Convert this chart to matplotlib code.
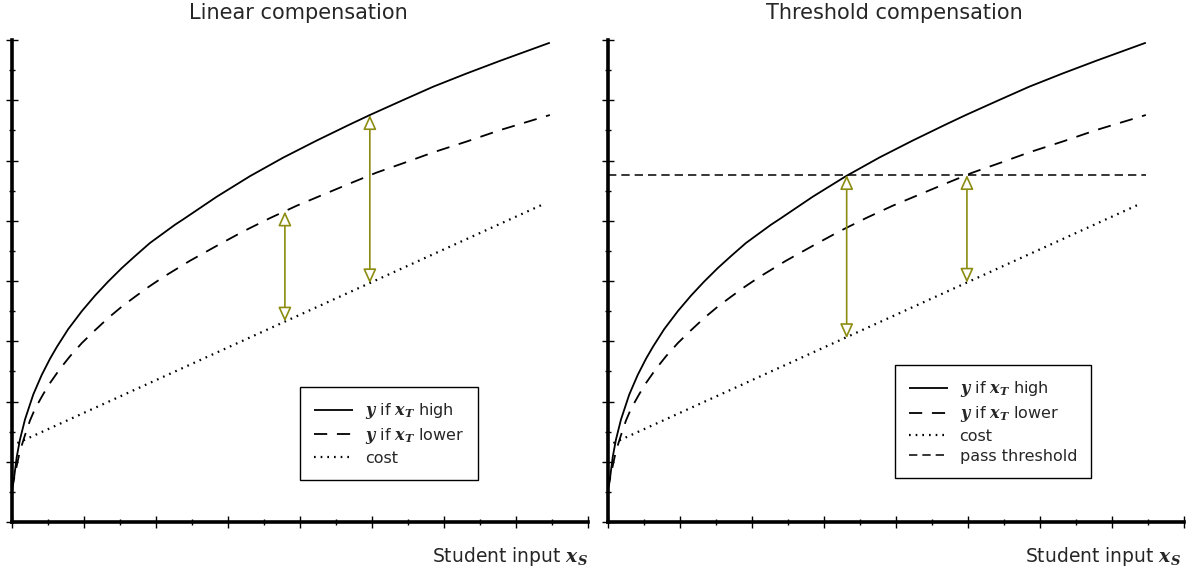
import matplotlib
matplotlib.use("Agg")
import matplotlib.pyplot as plt
from matplotlib.ticker import MultipleLocator, NullFormatter

plt.rcParams['font.family'] = ['DejaVu Sans']
plt.rcParams['mathtext.fontset'] = 'custom'
plt.rcParams['mathtext.it'] = 'DejaVu Serif:italic:bold'
plt.rcParams['mathtext.rm'] = 'DejaVu Sans'
plt.rcParams['lines.scale_dashes'] = False

# ---------------- data ----------------
titles = ["Linear compensation", "Threshold compensation"]
xlabel = "Student input $x_S$"

high_x = [0.0, 0.056, 0.13, 0.22, 0.36, 0.59, 0.825, 1.056, 1.25, 1.56, 1.94, 2.31,
          2.67, 3.05, 3.42, 3.83, 4.53, 4.76, 5.69, 6.61, 7.54, 8.46, 9.39, 9.94,
          10.87, 11.70, 12.63, 13.56, 14.94]
high_y = [1.2, 1.45, 2.15, 2.73, 3.40, 4.23, 4.88, 5.42, 5.82, 6.40, 7.00, 7.52,
          7.98, 8.43, 8.83, 9.26, 9.87, 10.05, 10.80, 11.48, 12.10, 12.66, 13.20, 13.51,
          14.01, 14.45, 14.89, 15.31, 15.91]

lower_x = [0.0, 0.083, 0.22, 0.36, 0.5, 0.64, 0.87, 1.06, 1.33, 1.61, 1.94, 2.31,
           2.68, 3.05, 3.42, 3.79, 4.20, 4.94, 5.69, 6.43, 7.17, 7.91, 8.65, 9.39,
           10.13, 10.89, 11.70, 12.63, 13.56, 14.94]
lower_y = [1.05, 1.60, 2.35, 2.88, 3.37, 3.76, 4.25, 4.62, 5.08, 5.50, 5.94, 6.37,
           6.78, 7.15, 7.48, 7.80, 8.13, 8.67, 9.17, 9.65, 10.09, 10.50, 10.87, 11.24,
           11.60, 11.92, 12.27, 12.63, 13.01, 13.51]

cost_x = [0.15, 14.78]
cost_y = [2.62, 10.56]

threshold_x = [0.0, 14.94]
threshold_y = [11.52, 11.52]

# arrows: x position, lower end, upper end
arrowsL_x = [7.58, 9.94]
arrowsL_lo = [6.65, 7.92]
arrowsL_hi = [10.31, 13.51]
arrowsR_x = [6.63, 9.97]
arrowsR_lo = [6.10, 7.94]
arrowsR_hi = [11.52, 11.52]

labels = ["$y$ if $x_T$ high", "$y$ if $x_T$ lower", "cost", "pass threshold"]

# ---------------- styles ----------------
OLIVE = '#8c8c10'
TXT = '#262626'
DASH = (0, (9.5, 7.0))
DOT = (0, (1.2, 3.6))
THR = (0, (6.0, 3.6))

W, H = 1187, 574
fig = plt.figure(figsize=(W / 100, H / 100), dpi=100)

axL = fig.add_axes([12 / W, (H - 522) / H, 576 / W, 482 / H])
axR = fig.add_axes([608 / W, (H - 522) / H, 576 / W, 482 / H])

def style(ax):
    ax.set_xlim(0, 16)
    ax.set_ylim(0, 16)
    for s in ('top', 'right'):
        ax.spines[s].set_visible(False)
    for s in ('left', 'bottom'):
        ax.spines[s].set_linewidth(2.6)
    ax.xaxis.set_major_locator(MultipleLocator(2))
    ax.xaxis.set_minor_locator(MultipleLocator(1))
    ax.yaxis.set_major_locator(MultipleLocator(2))
    ax.yaxis.set_minor_locator(MultipleLocator(1))
    ax.xaxis.set_major_formatter(NullFormatter())
    ax.yaxis.set_major_formatter(NullFormatter())
    ax.tick_params(which='major', direction='inout', length=8, width=1.0)
    ax.tick_params(which='minor', direction='inout', length=5, width=1.0)
    ax.patch.set_alpha(0)

def arrows(ax, xs, lo, hi):
    for x, a, b in zip(xs, lo, hi):
        ax.annotate('', xy=(x, b), xytext=(x, a),
                    arrowprops=dict(arrowstyle='<|-|>,head_length=0.55,head_width=0.25',
                                    mutation_scale=16, lw=1.2, ec=OLIVE, fc='white',
                                    shrinkA=0, shrinkB=0))

for i, ax in enumerate((axL, axR)):
    style(ax)
    h1, = ax.plot(high_x, high_y, color='black', lw=1.3, solid_capstyle='butt')
    h2, = ax.plot(lower_x, lower_y, color='black', lw=1.3, linestyle=DASH)
    h3, = ax.plot(cost_x, cost_y, color='black', lw=1.6, linestyle=DOT)
    hs = [h1, h2, h3]
    if i == 1:
        h4, = ax.plot(threshold_x, threshold_y, color='black', lw=1.1, linestyle=THR)
        hs.append(h4)
        arrows(ax, arrowsR_x, arrowsR_lo, arrowsR_hi)
    else:
        arrows(ax, arrowsL_x, arrowsL_lo, arrowsL_hi)
    leg = ax.legend(hs, labels[:len(hs)], loc='lower left',
                    bbox_to_anchor=(0.5, 0.087) if i == 0 else (0.498, 0.091),
                    fontsize=11.5, frameon=True, fancybox=False, framealpha=1,
                    edgecolor='black', handlelength=2.4, handletextpad=0.75,
                    borderpad=0.9, labelspacing=0.3, borderaxespad=0)
    leg.get_frame().set_linewidth(1.0)
    for t in leg.get_texts():
        t.set_color(TXT)
    ax.text(0.497, 1 + 27 / 482, titles[i], transform=ax.transAxes,
            ha='center', va='center', fontsize=15, color=TXT)
    ax.text(1.0 if i == 0 else 0.995, -35 / 482, xlabel, transform=ax.transAxes,
            ha='right', va='center', fontsize=13.5, color=TXT)

fig.savefig('out.png', dpi=100)
